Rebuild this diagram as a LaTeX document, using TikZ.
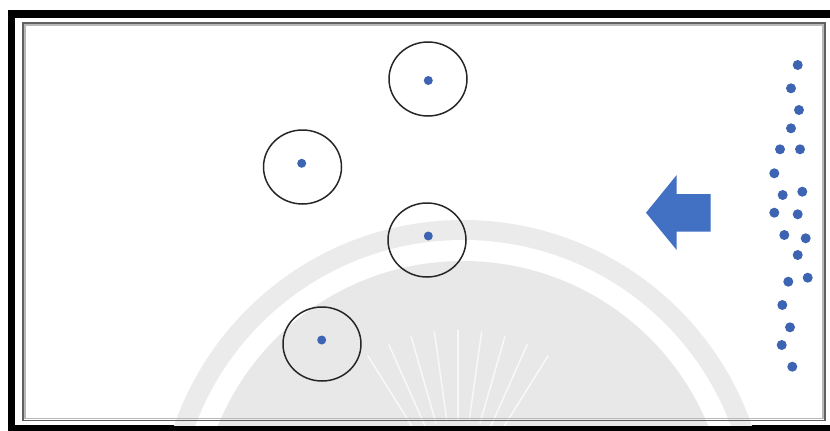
\documentclass[tikz,border=0pt]{standalone}
\usetikzlibrary{shapes.geometric,calc}
\definecolor{dotblue}{HTML}{3D64B2}
\definecolor{arrblue}{HTML}{4270C2}
\definecolor{wmring}{HTML}{EBEBEB}
\definecolor{wmdisk}{HTML}{E8E8E8}
\begin{document}
\begin{tikzpicture}[x=1pt,y=-1pt,
  ring/.style={ellipse,draw=black!85,line width=1.5pt,minimum width=78pt,minimum height=74pt,inner sep=0pt},
  dot/.style={circle,fill=dotblue,inner sep=0pt,minimum size=10pt},
  cdot/.style={circle,fill=dotblue,inner sep=0pt,minimum size=9pt},
  ray/.style={white,line width=1.5pt,opacity=0.7,line cap=round}]
\useasboundingbox (0,0) rectangle (830,431);
\fill[white] (0,0) rectangle (830,431);
% outer black frame
\fill[black] (8,10) rectangle (845,431);
\fill[white] (15,18) rectangle (830,425);
% watermark
\begin{scope}
  \clip (15,18) rectangle (830,425);
  \fill[wmring] (463,525.6) circle (305.6);
  \fill[white] (463,525.6) circle (285.6);
  \fill[wmdisk] (463,525.6) circle (264.6);
  \foreach \a in {58,66,74,82,90,98,106,114,122}
    \draw[ray] ($(458,500)+(\a:-80)$) -- ($(458,500)+(\a:-170)$);
\end{scope}
% inner gray frame
\draw[black!62,line width=1.6pt] (23,23) rectangle (825,420.5);
\draw[black!28,line width=1.4pt] (25,25) rectangle (823,418.5);
% circles with particles
\node[ring] (c1) at (428,79) {};
\node[ring] (c2) at (302.5,167) {};
\node[ring] (c3) at (427,240) {};
\node[ring] (c4) at (322,344) {};
\node[cdot] (p1) at (428.3,80.5) {};
\node[cdot] (p2) at (301.7,163.3) {};
\node[cdot] (p3) at (428.3,236) {};
\node[cdot] (p4) at (321.7,340) {};
% arrow
\fill[arrblue] (646,212.7) -- (676.7,175) -- (676.7,194) -- (710.7,194)
  -- (710.7,231.7) -- (676.7,231.7) -- (676.7,250) -- cycle;
% incoming particles
\foreach \n/\x/\y in {1/797.7/65,2/791/88.3,3/799/110,4/791/128.3,5/780/149.3,
  6/800/149.3,7/774.3/173.3,8/782.7/195,9/802.3/191.7,10/774.3/212.7,
  11/797.7/214.3,12/784.3/235,13/805.7/238.3,14/797.7/255,15/788.3/281.7,
  16/807.7/277.7,17/782.3/305,18/790/327.3,19/781.7/345,20/792.3/366.7}
  \node[dot] (d\n) at (\x,\y) {};
\end{tikzpicture}
\end{document}
